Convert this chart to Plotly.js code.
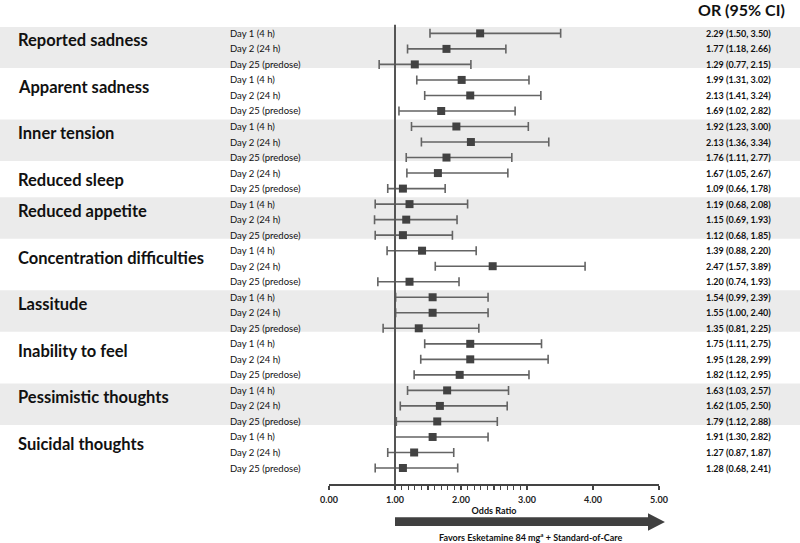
<!DOCTYPE html>
<html>
<head>
<meta charset="utf-8">
<script src="https://cdn.plot.ly/plotly-3.0.1.min.js"></script>
<style>html,body{margin:0;padding:0;background:#fff;}#chart{width:800px;height:543px;}</style>
</head>
<body>
<div id="chart"></div>
<script>
// ---- data ----
var groupNames = ['Reported sadness', 'Apparent sadness', 'Inner tension', 'Reduced sleep',
  'Reduced appetite', 'Concentration difficulties', 'Lassitude', 'Inability to feel',
  'Pessimistic thoughts', 'Suicidal thoughts'];
var groupSizes = [3, 3, 3, 2, 3, 3, 3, 3, 3, 3];
var timepoints = [
  'Day 1 (4 h)', 'Day 2 (24 h)', 'Day 25 (predose)',
  'Day 1 (4 h)', 'Day 2 (24 h)', 'Day 25 (predose)',
  'Day 1 (4 h)', 'Day 2 (24 h)', 'Day 25 (predose)',
  'Day 2 (24 h)', 'Day 25 (predose)',
  'Day 1 (4 h)', 'Day 2 (24 h)', 'Day 25 (predose)',
  'Day 1 (4 h)', 'Day 2 (24 h)', 'Day 25 (predose)',
  'Day 1 (4 h)', 'Day 2 (24 h)', 'Day 25 (predose)',
  'Day 1 (4 h)', 'Day 2 (24 h)', 'Day 25 (predose)',
  'Day 1 (4 h)', 'Day 2 (24 h)', 'Day 25 (predose)',
  'Day 1 (4 h)', 'Day 2 (24 h)', 'Day 25 (predose)'];
var orLabels = [
  '2.29 (1.50, 3.50)', '1.77 (1.18, 2.66)', '1.29 (0.77, 2.15)',
  '1.99 (1.31, 3.02)', '2.13 (1.41, 3.24)', '1.69 (1.02, 2.82)',
  '1.92 (1.23, 3.00)', '2.13 (1.36, 3.34)', '1.76 (1.11, 2.77)',
  '1.67 (1.05, 2.67)', '1.09 (0.66, 1.78)',
  '1.19 (0.68, 2.08)', '1.15 (0.69, 1.93)', '1.12 (0.68, 1.85)',
  '1.39 (0.88, 2.20)', '2.47 (1.57, 3.89)', '1.20 (0.74, 1.93)',
  '1.54 (0.99, 2.39)', '1.55 (1.00, 2.40)', '1.35 (0.81, 2.25)',
  '1.75 (1.11, 2.75)', '1.95 (1.28, 2.99)', '1.82 (1.12, 2.95)',
  '1.63 (1.03, 2.57)', '1.62 (1.05, 2.50)', '1.79 (1.12, 2.88)',
  '1.91 (1.30, 2.82)', '1.27 (0.87, 1.87)', '1.28 (0.68, 2.41)'];
// plotted positions
var orPoint = [2.29, 1.78, 1.30, 2.01, 2.14, 1.70, 1.93, 2.15, 1.78, 1.65, 1.12,
  1.22, 1.17, 1.12, 1.41, 2.48, 1.22, 1.57, 1.57, 1.36, 2.14, 2.14, 1.98,
  1.79, 1.68, 1.64, 1.57, 1.29, 1.12];
var ciLow = [1.53, 1.19, 0.76, 1.33, 1.45, 1.06, 1.25, 1.40, 1.17, 1.18, 0.89,
  0.70, 0.69, 0.70, 0.88, 1.61, 0.74, 1.01, 1.01, 0.82, 1.45, 1.39, 1.29,
  1.19, 1.08, 1.02, 1.00, 0.89, 0.70];
var ciHigh = [3.51, 2.68, 2.15, 3.03, 3.21, 2.82, 3.02, 3.33, 2.77, 2.71, 1.76,
  2.10, 1.94, 1.87, 2.23, 3.88, 1.97, 2.41, 2.41, 2.27, 3.22, 3.32, 3.03,
  2.72, 2.70, 2.55, 2.41, 1.89, 1.95];
var xTicks = [0, 1, 2, 3, 4, 5];
var xTitle = 'Odds Ratio';
var headerText = 'OR (95% CI)';
var favorsText = 'Favors Esketamine 84 mg<sup>a</sup> + Standard-of-Care';

// ---- build ----
var FONT = 'Lato, "Open Sans", sans-serif';
var rows = timepoints.map(function (_, i) { return i; });
var plusErr = orPoint.map(function (v, i) { return ciHigh[i] - v; });
var minusErr = orPoint.map(function (v, i) { return v - ciLow[i]; });

var trace = {
  type: 'scatter', mode: 'markers', x: orPoint, y: rows,
  marker: { symbol: 'square', size: 8, color: '#424242' },
  error_x: { type: 'data', symmetric: false, array: plusErr, arrayminus: minusErr,
    color: '#646464', thickness: 1.6, width: 4.5 },
  hoverinfo: 'skip', showlegend: false
};

var shapes = [];
var annotations = [];
var start = 0;
groupSizes.forEach(function (n, g) {
  if (g % 2 === 0) {
    shapes.push({ type: 'rect', layer: 'below', xref: 'paper', yref: 'y',
      x0: -1.05, x1: 1.45, y0: start - 0.45, y1: start + n - 1 + 0.23,
      fillcolor: '#ebebeb', line: { width: 0 } });
  }
  annotations.push({ xref: 'paper', yref: 'y', x: -0.9485, y: start + 0.45,
    xanchor: 'left', yanchor: 'middle', showarrow: false, text: groupNames[g],
    font: { family: FONT, size: 16.5, weight: 'bold', color: '#111' } });
  start += n;
});
rows.forEach(function (i) {
  annotations.push({ xref: 'paper', yref: 'y', x: -0.306, y: i, xanchor: 'left',
    yanchor: 'middle', showarrow: false, text: timepoints[i],
    font: { family: FONT, size: 9.5, color: '#111' } });
  annotations.push({ xref: 'paper', yref: 'y', x: 1.3455, y: i, xanchor: 'right',
    yanchor: 'middle', showarrow: false, text: orLabels[i],
    font: { family: FONT, size: 9, weight: 'bold', color: '#111' } });
});
annotations.push({ xref: 'paper', yref: 'paper', x: 1.2515, y: 1.039, xanchor: 'center',
  yanchor: 'middle', showarrow: false, text: headerText,
  font: { family: FONT, size: 16, weight: 'bold', color: '#111' } });
annotations.push({ xref: 'paper', yref: 'paper', x: 0.612, y: -0.116, xanchor: 'center',
  yanchor: 'middle', showarrow: false, text: favorsText,
  font: { family: FONT, size: 9, weight: 'bold', color: '#111' } });

// reference line at OR = 1
shapes.push({ type: 'line', xref: 'x', yref: 'paper', x0: 1, x1: 1, y0: 0, y1: 1.005,
  line: { color: '#555', width: 2 } });
// direction arrow
shapes.push({ type: 'path', xref: 'paper', yref: 'paper',
  path: 'M 0.2 -0.0729 L 0.9667 -0.0729 L 0.9667 -0.0641 L 1.018 -0.0832 L 0.9667 -0.1022 L 0.9667 -0.0919 L 0.2 -0.0919 Z',
  fillcolor: '#404040', line: { width: 0 } });

// major ticks with labels plus unlabeled minor ticks between 1 and 3
var tickVals = [];
var tickText = [];
xTicks.forEach(function (t) { tickVals.push(t); tickText.push(t.toFixed(2)); });
for (var k = 11; k < 30; k++) {
  if (k !== 20) { tickVals.push(k / 10); tickText.push(' '); }
}

var layout = {
  width: 800, height: 543,
  margin: { l: 329, r: 141, t: 27, b: 59 },
  paper_bgcolor: '#fff', plot_bgcolor: 'rgba(0,0,0,0)',
  xaxis: {
    range: [0, 5], tickmode: 'array', tickvals: tickVals, ticktext: tickText,
    ticks: 'outside', ticklen: 4, tickwidth: 1.2, tickcolor: '#444',
    showline: true, linecolor: '#444', linewidth: 1.5,
    showgrid: false, zeroline: false, ticklabelstandoff: 3,
    tickfont: { family: FONT, size: 9, weight: 'bold', color: '#222' },
    title: { text: xTitle, standoff: 1, font: { family: FONT, size: 9, weight: 'bold', color: '#111' } },
    fixedrange: true
  },
  yaxis: {
    range: [29.03, -0.41], showticklabels: false, ticks: '', showgrid: false,
    zeroline: false, showline: false, fixedrange: true
  },
  shapes: shapes,
  annotations: annotations
};

Plotly.newPlot('chart', [trace], layout, { displayModeBar: false, staticPlot: true });
</script>
</body>
</html>
